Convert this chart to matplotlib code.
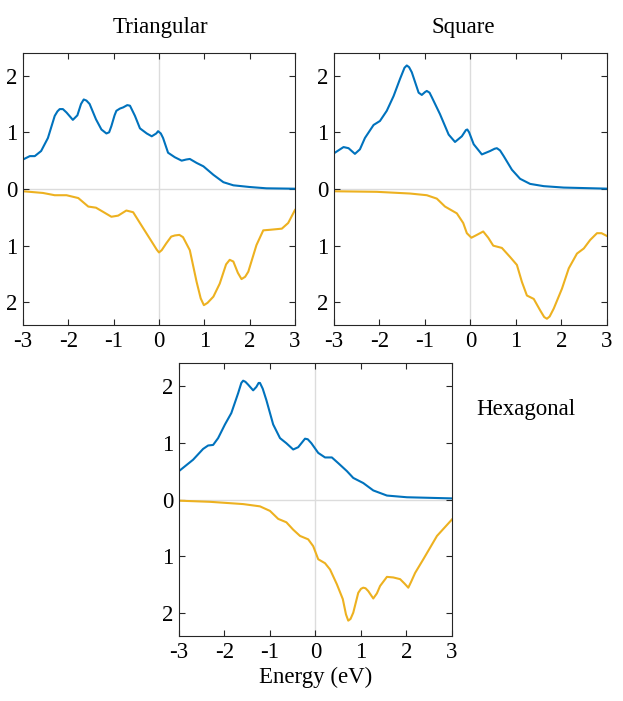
import matplotlib
matplotlib.use("Agg")
import matplotlib.pyplot as plt
from matplotlib.ticker import FixedLocator, FixedFormatter

plt.rcParams["font.family"] = ["Liberation Serif", "DejaVu Serif"]
plt.rcParams["axes.unicode_minus"] = False

# ── data (energy in eV, DOS; spin-down is negative) ──
tri_up_x = [-3.0, -2.85, -2.74, -2.6, -2.45, -2.3, -2.24, -2.19, -2.12, -2.04,
            -1.9, -1.8, -1.72, -1.66, -1.6, -1.53, -1.39, -1.27, -1.16, -1.1,
            -1.05, -0.98, -0.94, -0.86, -0.79, -0.7, -0.64, -0.53, -0.42,
            -0.27, -0.16, -0.06, -0.02, 0.04, 0.09, 0.2, 0.35, 0.5, 0.6, 0.68,
            0.83, 0.98, 1.2, 1.42, 1.64, 2.0, 2.37, 3.0]
tri_up_y = [0.52, 0.58, 0.58, 0.67, 0.9, 1.29, 1.37, 1.41, 1.41, 1.35,
            1.22, 1.3, 1.5, 1.58, 1.56, 1.5, 1.23, 1.05, 0.98, 1.0,
            1.11, 1.3, 1.38, 1.42, 1.44, 1.48, 1.47, 1.29, 1.07,
            0.98, 0.93, 0.98, 1.02, 0.98, 0.9, 0.64, 0.56, 0.5, 0.52, 0.53,
            0.46, 0.4, 0.25, 0.12, 0.065, 0.035, 0.012, 0.005]
tri_dn_x = [-3.0, -2.56, -2.3, -2.04, -1.78, -1.56, -1.39, -1.24, -1.05, -0.9,
            -0.72, -0.57, -0.35, -0.16, -0.05, 0.0, 0.06, 0.16, 0.27, 0.35,
            0.45, 0.53, 0.68, 0.83, 0.92, 0.99, 1.07, 1.2, 1.34, 1.48, 1.56,
            1.64, 1.74, 1.82, 1.9, 1.97, 2.15, 2.3, 2.45, 2.71, 2.85, 3.0]
tri_dn_y = [-0.04, -0.07, -0.11, -0.11, -0.16, -0.31, -0.33, -0.4, -0.49, -0.47,
            -0.38, -0.41, -0.69, -0.93, -1.07, -1.12, -1.08, -0.96, -0.84, -0.82,
            -0.81, -0.85, -1.08, -1.64, -1.93, -2.05, -2.01, -1.9, -1.67, -1.33,
            -1.25, -1.28, -1.48, -1.59, -1.55, -1.46, -0.99, -0.73, -0.72, -0.7,
            -0.6, -0.37]

sq_up_x = [-3.0, -2.79, -2.68, -2.54, -2.43, -2.32, -2.13, -1.99, -1.84, -1.69,
           -1.55, -1.45, -1.4, -1.35, -1.29, -1.14, -1.07, -1.0, -0.96, -0.9,
           -0.85, -0.67, -0.48, -0.34, -0.19, -0.1, -0.07, -0.03, 0.07, 0.25,
           0.43, 0.53, 0.58, 0.65, 0.73, 0.91, 1.09, 1.31, 1.61, 2.05, 3.0]
sq_up_y = [0.63, 0.74, 0.72, 0.62, 0.7, 0.9, 1.13, 1.2, 1.38, 1.64,
           1.94, 2.14, 2.18, 2.15, 2.06, 1.7, 1.66, 1.71, 1.73, 1.7,
           1.62, 1.32, 0.96, 0.83, 0.93, 1.04, 1.05, 1.0, 0.79, 0.61,
           0.67, 0.71, 0.72, 0.68, 0.58, 0.34, 0.18, 0.09, 0.05, 0.025, 0.006]
sq_dn_x = [-3.0, -2.06, -1.33, -0.96, -0.74, -0.56, -0.3, -0.16, -0.08, 0.02,
           0.14, 0.28, 0.39, 0.5, 0.69, 0.87, 1.02, 1.13, 1.24, 1.39, 1.53,
           1.62, 1.68, 1.74, 1.83, 2.01, 2.16, 2.34, 2.49, 2.63, 2.78, 2.88,
           3.0]
sq_dn_y = [-0.04, -0.05, -0.08, -0.11, -0.17, -0.31, -0.43, -0.6, -0.78, -0.86,
           -0.81, -0.75, -0.86, -1.0, -1.04, -1.2, -1.34, -1.64, -1.88, -1.94,
           -2.14, -2.26, -2.29, -2.25, -2.11, -1.76, -1.4, -1.14, -1.05, -0.9,
           -0.78, -0.78, -0.83]

hex_up_x = [-3.0, -2.69, -2.47, -2.36, -2.25, -2.14, -1.99, -1.85, -1.7,
            -1.63, -1.59, -1.54, -1.48, -1.37, -1.3, -1.25, -1.22, -1.16,
            -1.08, -0.93, -0.78, -0.64, -0.49, -0.38, -0.23, -0.17, -0.09,
            0.06, 0.21, 0.36, 0.5, 0.69, 0.83, 1.05, 1.27, 1.57, 2.01, 3.0]
hex_up_y = [0.5, 0.7, 0.89, 0.95, 0.96, 1.08, 1.32, 1.52, 1.87,
            2.05, 2.09, 2.07, 2.02, 1.92, 1.98, 2.05, 2.05, 1.95,
            1.75, 1.32, 1.08, 0.99, 0.88, 0.92, 1.07, 1.06, 0.99,
            0.82, 0.74, 0.74, 0.64, 0.5, 0.38, 0.29, 0.16, 0.07, 0.04, 0.02]
hex_dn_x = [-3.0, -2.32, -1.59, -1.22, -1.0, -0.82, -0.64, -0.49, -0.34, -0.16,
            -0.05, 0.06, 0.21, 0.32, 0.47, 0.6, 0.67, 0.72, 0.77, 0.83, 0.94,
            1.0, 1.05, 1.1, 1.16, 1.27, 1.35, 1.42, 1.57, 1.71, 1.86, 1.96,
            2.04, 2.1, 2.19, 2.37, 2.67, 3.0]
hex_dn_y = [-0.02, -0.04, -0.08, -0.12, -0.2, -0.34, -0.4, -0.53, -0.64, -0.7,
            -0.82, -1.05, -1.12, -1.23, -1.49, -1.75, -2.02, -2.13, -2.1, -1.99,
            -1.64, -1.57, -1.55, -1.56, -1.61, -1.74, -1.65, -1.52, -1.36,
            -1.37, -1.4, -1.48, -1.55, -1.45, -1.29, -1.05, -0.64, -0.35]

x_ticks = [-3, -2, -1, 0, 1, 2, 3]
y_ticks = [-2, -1, 0, 1, 2]
y_tick_labels = ["2", "1", "0", "1", "2"]

BLUE = "#0072BD"
GOLD = "#EDB120"
FS = 16.5

fig = plt.figure(figsize=(6.23, 7.01), dpi=100)

rects = {
    "tri": [0.0369, 0.5364, 0.4366, 0.3880],
    "sq":  [0.5361, 0.5364, 0.4382, 0.3880],
    "hex": [0.2873, 0.0927, 0.4382, 0.3894],
}
series = {
    "tri": (tri_up_x, tri_up_y, tri_dn_x, tri_dn_y),
    "sq":  (sq_up_x, sq_up_y, sq_dn_x, sq_dn_y),
    "hex": (hex_up_x, hex_up_y, hex_dn_x, hex_dn_y),
}

axes = {}
for key, rect in rects.items():
    ax = fig.add_axes(rect)
    ux, uy, dx, dy = series[key]
    ax.axhline(0, color="#dcdcdc", lw=1.0, zorder=0)
    ax.axvline(0, color="#dcdcdc", lw=1.0, zorder=0)
    ax.plot(ux, uy, color=BLUE, lw=1.5, solid_joinstyle="round")
    ax.plot(dx, dy, color=GOLD, lw=1.5, solid_joinstyle="round")
    ax.set_xlim(-3, 3)
    ax.set_ylim(-2.4, 2.4)
    ax.xaxis.set_major_locator(FixedLocator(x_ticks))
    ax.yaxis.set_major_locator(FixedLocator(y_ticks))
    ax.yaxis.set_major_formatter(FixedFormatter(y_tick_labels))
    ax.tick_params(direction="in", top=True, right=True, length=4,
                   width=0.8, color="#262626", labelsize=FS, pad=4)
    for s in ax.spines.values():
        s.set_color("#262626")
        s.set_linewidth(0.8)
    axes[key] = ax

axes["hex"].set_xlabel("Energy (eV)", fontsize=FS, labelpad=3)

fig.text(160 / 623, 1 - 33 / 701, "Triangular", fontsize=FS,
         ha="center", va="baseline")
fig.text(463 / 623, 1 - 33 / 701, "Square", fontsize=FS,
         ha="center", va="baseline")
fig.text(526 / 623, 1 - 415 / 701, "Hexagonal", fontsize=FS,
         ha="center", va="baseline")

fig.savefig("out.png", dpi=100, facecolor="white")
